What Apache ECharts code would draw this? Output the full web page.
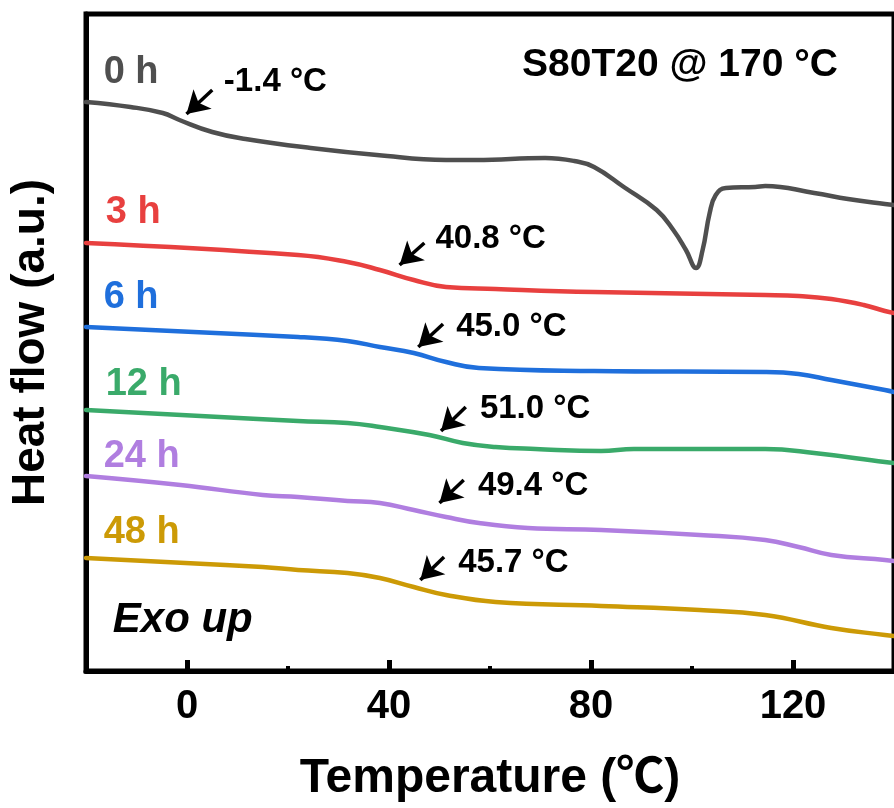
<!DOCTYPE html>
<html><head><meta charset="utf-8">
<script src="https://cdn.jsdelivr.net/npm/echarts@6/dist/echarts.min.js"></script>
<style>html,body{margin:0;padding:0;background:#fff}#c{width:894px;height:808px}</style>
</head><body><div id="c"></div>
<script>
// ---- data (temperature in °C, heat flow in a.u.) ----
const seriesNames = ['0 h', '3 h', '6 h', '12 h', '24 h', '48 h'];

const t0h = [-20, -11.2, -4.8, -1.5, 5.0, 11.6, 24.5, 37.6, 51.3, 57.2, 70.9, 76.7, 80.6, 86.5, 93.0, 96.3, 98.8, 100.8, 102.1, 103.5, 104.7, 106.7, 112.5, 114.5, 124.2, 130.9, 138.2, 140];
const v0h = [566, 561, 555, 548, 536, 529, 520, 513, 508, 508, 510, 507, 501, 481, 458, 438, 418, 400, 418, 455, 473, 480, 481, 482, 475, 469, 464, 463];

const t3h = [-20, 22.0, 31.8, 38.2, 44.9, 51.3, 61.1, 80.6, 114.5, 121.1, 127.6, 134.0, 138.2, 140];
const v3h = [425, 413, 406, 398, 388, 381, 379, 376, 373, 372, 369, 363, 357, 355];

const t6h = [-20, 22.0, 31.8, 38.2, 44.9, 51.3, 57.8, 80.6, 114.5, 121.1, 127.6, 138.2, 140];
const v6h = [341, 331, 327, 321, 315, 306, 300, 297, 296, 294, 288, 278, 276];

const t12h = [-20, 22.0, 31.8, 38.2, 48.0, 54.6, 61.1, 69.0, 82.0, 88.5, 114.5, 124.2, 138.2, 140];
const v12h = [258, 247, 245, 241, 233, 225, 221, 219, 217, 219, 219, 215, 206, 205];

const t24h = [-20, -1.3, 15.0, 22.0, 31.8, 38.2, 44.9, 51.3, 57.8, 67.5, 82.0, 101.5, 114.5, 121.1, 127.6, 138.2, 140];
const v24h = [192, 183, 173, 171, 167, 165, 158, 151, 145, 140, 138, 133, 128, 121, 113, 108, 107];

const t48h = [-20, 15.0, 22.0, 31.8, 38.2, 44.9, 51.3, 61.1, 82.0, 101.5, 114.5, 127.6, 138.2, 140];
const v48h = [110, 101, 98, 95, 90, 81, 73, 66, 62, 58, 53, 40, 33, 32];

// curve name labels (data coordinates)
const nameT = [-16.5, -16.1, -16.5, -16.1, -16.5, -16.5];
const nameV = [595, 455, 370, 283, 211, 135];

// Tg annotations
const annoText = ['-1.4 °C', '40.8 °C', '45.0 °C', '51.0 °C', '49.4 °C', '45.7 °C'];
const tipT = [-0.1, 42.1, 45.8, 50.3, 50.0, 46.2];
const tipV = [554, 403, 321, 237, 165, 88];
const tailT = [5.0, 47.0, 50.7, 55.2, 54.8, 50.9];
const tailV = [578, 425, 344, 261, 188, 111];
const textT = [7.3, 49.2, 53.3, 58.0, 57.6, 53.7];
const textV = [586, 429, 341, 259, 182, 105];

const exoT = -14.7, exoV = 48;

const majorTicks = [0, 40, 80, 120];
const minorTicks = [20, 60, 100];

// ---- styles ----
const colors = ['#4f4f4f', '#e8403f', '#1f6fdc', '#3aaa6a', '#b07ee0', '#cc9a06'];
const FONT = '"Liberation Sans", Arial, Helvetica, "Noto Sans CJK SC", sans-serif';

const curves = [[t0h, v0h], [t3h, v3h], [t6h, v6h], [t12h, v12h], [t24h, v24h], [t48h, v48h]];

const lineSeries = curves.map((c, i) => ({
  type: 'line',
  name: seriesNames[i],
  data: c[0].map((t, j) => [t, c[1][j]]),
  symbol: 'none',
  smooth: 0.45,
  silent: true,
  z: 3,
  lineStyle: { color: colors[i], width: 4.5, cap: 'round', join: 'round' },
  markLine: {
    silent: true,
    symbol: ['none', 'arrow'],
    symbolSize: [20, 22],
    lineStyle: { color: '#000', width: 3.5, type: 'solid', opacity: 1 },
    itemStyle: { color: '#000' },
    label: { show: false },
    emphasis: { disabled: true },
    data: [[{ coord: [tailT[i], tailV[i]] }, { coord: [tipT[i], tipV[i]] }]]
  }
}));

const nameSeries = {
  type: 'scatter', symbolSize: 0, silent: true, z: 5,
  itemStyle: { opacity: 1 },
  data: seriesNames.map((n, i) => ({
    value: [nameT[i], nameV[i]],
    label: { show: true, formatter: n, position: 'right', distance: 0, color: colors[i], opacity: 1,
      fontSize: 38, fontWeight: 'bold', fontFamily: FONT }
  }))
};

const annoSeries = {
  type: 'scatter', symbolSize: 0, silent: true, z: 5,
  itemStyle: { opacity: 1 },
  data: annoText.map((s, i) => ({
    value: [textT[i], textV[i]],
    label: { show: true, formatter: s, position: 'right', distance: 0, color: '#000', opacity: 1,
      fontSize: 33, fontWeight: 'bold', fontFamily: FONT }
  }))
};

const exoSeries = {
  type: 'scatter', symbolSize: 0, silent: true, z: 5,
  itemStyle: { opacity: 1 },
  data: [{ value: [exoT, exoV], label: { show: true, formatter: 'Exo up', position: 'right', distance: 0,
    color: '#000', opacity: 1, fontSize: 42, fontWeight: 'bold', fontStyle: 'italic', fontFamily: FONT } }]
};

const option = {
  animation: false,
  backgroundColor: '#fff',
  title: {
    text: 'S80T20 @ 170 °C', left: 517, top: 41,
    textStyle: { fontSize: 39, fontWeight: 'bold', color: '#000', fontFamily: FONT }
  },
  grid: { left: 86, right: -9, top: 14, bottom: 137, show: true, borderColor: '#000', borderWidth: 5, backgroundColor: 'transparent' },
  xAxis: [{
    type: 'value', min: -20, max: 140, position: 'bottom',
    axisLine: { show: true, onZero: false, lineStyle: { color: '#000', width: 5 } },
    axisTick: { show: true, inside: true, length: 11, lineStyle: { color: '#000', width: 5 }, customValues: majorTicks },
    axisLabel: { show: true, customValues: majorTicks, margin: 16, fontSize: 40, fontWeight: 'bold', color: '#000', fontFamily: FONT },
    splitLine: { show: false },
    name: 'Temperature (℃)', nameLocation: 'middle', nameGap: 84,
    nameTextStyle: { fontSize: 48, fontWeight: 'bold', color: '#000', fontFamily: FONT }
  }, {
    type: 'value', min: -20, max: 140, position: 'bottom', offset: 0,
    axisLine: { show: false, onZero: false },
    axisTick: { show: true, inside: true, length: 5, lineStyle: { color: '#000', width: 4 }, customValues: minorTicks },
    axisLabel: { show: false },
    splitLine: { show: false }
  }],
  yAxis: {
    type: 'value', min: -3, max: 654,
    axisLine: { show: true, onZero: false, lineStyle: { color: '#000', width: 5 } },
    axisTick: { show: false }, axisLabel: { show: false }, splitLine: { show: false },
    name: 'Heat flow (a.u.)', nameLocation: 'middle', nameGap: 32,
    nameTextStyle: { fontSize: 46, fontWeight: 'bold', color: '#000', fontFamily: FONT }
  },
  series: [...lineSeries, nameSeries, annoSeries, exoSeries]
};

const chart = echarts.init(document.getElementById('c'));
chart.setOption(option);
</script>
</body></html>
